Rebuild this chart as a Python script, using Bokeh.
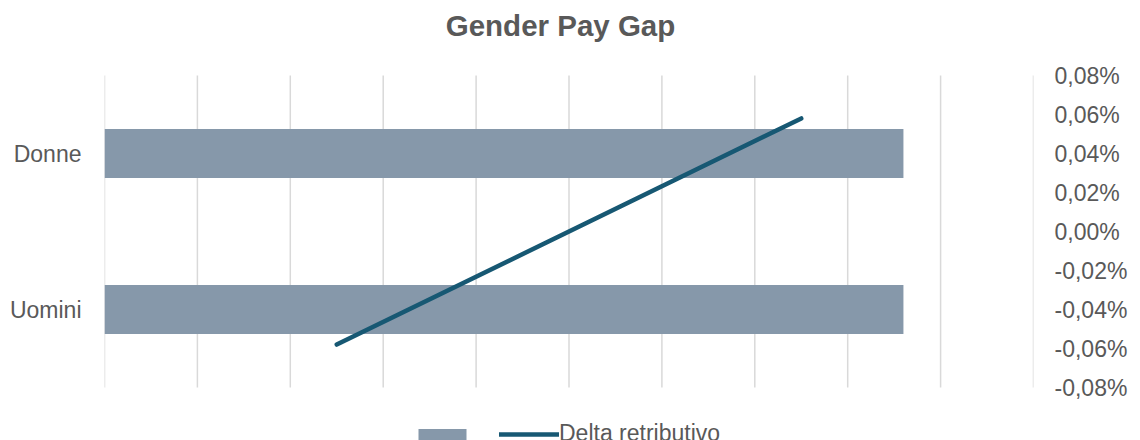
from bokeh.plotting import figure
from bokeh.models import (Range1d, LinearAxis, FixedTicker, Label,
                          CustomJSTickFormatter, Legend, LegendItem, ColumnDataSource)
from bokeh.embed import file_html
from bokeh.resources import INLINE

# ---- data ----
categories = ["Uomini", "Donne"]          # bottom -> top (bars), left -> right (line)
bar_values = [8.6, 8.6]                    # bar lengths (hidden x axis, 0..10)
delta_values = [-0.058, 0.058]             # Delta retributivo, in %
x_grid_ticks = [0, 1, 2, 3, 4, 5, 6, 7, 8, 9, 10]
right_ticks = [-0.08, -0.06, -0.04, -0.02, 0.0, 0.02, 0.04, 0.06, 0.08]
title_text = "Gender Pay Gap"
legend_label = "Delta retributivo"

TEXT = "#595959"
FONT = "Liberation Sans"

W, H = 1140, 440
LEFT, RIGHT, TOP = 104, 107, 75        # gridded plot area inside the canvas
PLOT_H = 312
BOTTOM = H - TOP - PLOT_H               # strip below the plot area (legend)
FRAME_W = W - LEFT - RIGHT
TITLE_CX, TITLE_BASE = 560, 24.5        # title centre x / baseline anchor y on the canvas

n = len(categories)
cat_pos = [i + 0.5 for i in range(n)]   # band centres of the category scale

x0, x1 = x_grid_ticks[0], x_grid_ticks[-1]
y0, y1 = right_ticks[0], right_ticks[-1]
vpp = (y1 - y0) / PLOT_H                 # value per pixel (right axis)
cpp = n / PLOT_H                         # category units per pixel

p = figure(width=W, height=H, output_backend="svg", toolbar_location=None,
           x_range=Range1d(x0, x1),
           y_range=Range1d(y0 - BOTTOM * vpp, y1 + TOP * vpp),
           x_axis_location=None, y_axis_location=None,
           min_border_left=LEFT, min_border_right=RIGHT,
           min_border_top=0, min_border_bottom=0, title=None)
p.outline_line_color = None
p.background_fill_color = "white"
p.border_fill_color = "white"
p.xgrid.visible = False
p.ygrid.visible = False

p.extra_y_ranges = {"cat": Range1d(-BOTTOM * cpp, n + TOP * cpp)}
p.extra_x_ranges = {"lx": Range1d(0, n)}

# vertical gridlines, limited to the plot area
grid_src = ColumnDataSource(dict(x=x_grid_ticks, y0=[y0] * len(x_grid_ticks),
                                 y1=[y1] * len(x_grid_ticks)))
p.segment(x0="x", y0="y0", x1="x", y1="y1", source=grid_src,
          line_color="#d9d9d9", line_width=1.5)

# left category axis
lax = LinearAxis(y_range_name="cat", ticker=FixedTicker(ticks=cat_pos),
                 formatter=CustomJSTickFormatter(args=dict(cats=categories),
                                                 code="return cats[Math.floor(tick)];"))
# right percent axis
rax = LinearAxis(ticker=FixedTicker(ticks=right_ticks),
                 formatter=CustomJSTickFormatter(code="return tick.toFixed(2).replace('.', ',') + '%';"))
for a, so in ((lax, 23), (rax, 21)):
    a.axis_line_color = None
    a.major_tick_line_color = None
    a.minor_tick_line_color = None
    a.major_tick_out = 0
    a.major_tick_in = 0
    a.major_label_standoff = so
    a.major_label_text_font = FONT
    a.major_label_text_font_size = "23px"
    a.major_label_text_color = TEXT
p.add_layout(lax, "left")
p.add_layout(rax, "right")

bars_src = ColumnDataSource(dict(pos=cat_pos, val=bar_values))
bars = p.hbar(y="pos", left=0, right="val", height=0.314, source=bars_src,
              y_range_name="cat", fill_color="#8698aa", line_color=None)

line_src = ColumnDataSource(dict(pos=cat_pos, val=delta_values))
line = p.line(x="pos", y="val", source=line_src, x_range_name="lx",
              line_color="#175873", line_width=4.5, line_cap="round")

legend = Legend(items=[LegendItem(label="", renderers=[bars]),
                       LegendItem(label=legend_label, renderers=[line])],
                orientation="horizontal", location=(308, -7),
                padding=0, margin=0, spacing=27, label_standoff=0,
                glyph_width=60, glyph_height=14, label_height=26, label_width=0,
                border_line_alpha=0, background_fill_alpha=0,
                label_text_font=FONT, label_text_font_size="23px",
                label_text_color=TEXT)
p.add_layout(legend, "center")

title = Label(x=x0 + (TITLE_CX - LEFT) * (x1 - x0) / FRAME_W,
              y=y1 + (TOP - TITLE_BASE) * vpp,
              text=title_text, text_align="center", text_baseline="alphabetic",
              text_font=FONT, text_font_size="29.5px", text_font_style="bold",
              text_color=TEXT)
p.add_layout(title)

open("out.html", "w").write(file_html(p, INLINE))
